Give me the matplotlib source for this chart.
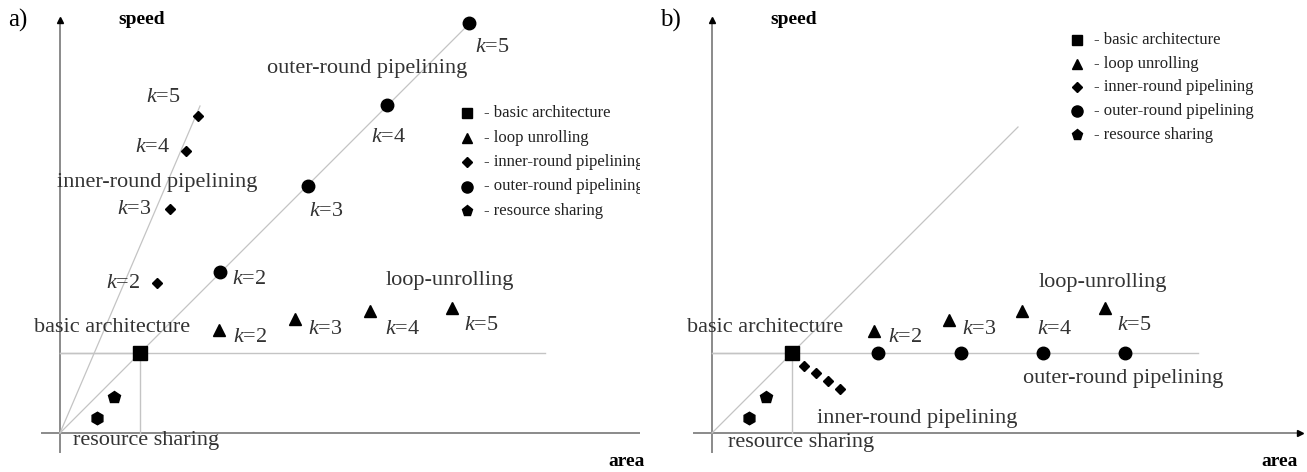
import matplotlib.pyplot as plt

plt.rcParams['font.family'] = 'Liberation Serif'
plt.rcParams['mathtext.fontset'] = 'custom'
plt.rcParams['mathtext.rm'] = 'Liberation Serif'
plt.rcParams['mathtext.it'] = 'Liberation Serif:italic'

# design points, (area, speed) measured from the origin
basic = (80, 80)
k_vals = [2, 3, 4, 5]

a_outer_area = [160, 248, 327, 409]
a_outer_speed = [161, 247, 328, 410]
a_inner_area = [97, 110, 126, 138]
a_inner_speed = [150, 224, 282, 317]
a_loop_area = [159, 235, 310, 392]
a_loop_speed = [103, 114, 122, 125]
share_area = [54, 37]
share_speed = [36, 15]

b_outer_area = [166, 249, 331, 413]
b_outer_speed = [80, 80, 80, 80]
b_inner_area = [92, 104, 116, 128]
b_inner_speed = [67, 60, 52, 44]
b_loop_area = [162, 237, 310, 393]
b_loop_speed = [102, 113, 122, 125]

legend_labels = ['- basic architecture', '- loop unrolling', '- inner-round pipelining',
                 '- outer-round pipelining', '- resource sharing']
legend_markers = ['s', '^', 'D', 'o', 'p']

AXC = '#8a8a8a'
GUIDE = '#c4c4c4'
FS = 16
KFS = 16


def k_label(ax, x, y, k, dx, dy, ha='left'):
    ax.annotate(r'$\mathit{k}$=%d' % k, xy=(x, y), xytext=(dx, dy), textcoords='offset pixels',
                ha=ha, va='center', fontsize=KFS, color='#333333')


def frame(ax, letter, xmax, diag_end, steep=None):
    ax.axis('off')
    ax.plot([0, 0], [-19, 411], color=AXC, lw=1.4, zorder=1)
    ax.plot([0], [413], marker='^', color='black', ms=4, zorder=2)
    ax.plot([-18, xmax], [0, 0], color=AXC, lw=1.4, zorder=1)
    ax.plot([xmax + 2], [0], marker='>', color='black', ms=4, zorder=2)
    ax.plot([0, basic[0]], [basic[1], basic[1]], color=GUIDE, lw=1, zorder=1)
    ax.plot([basic[0], basic[0]], [0, basic[1]], color=GUIDE, lw=1, zorder=1)
    ax.plot([0, diag_end], [0, diag_end], color=GUIDE, lw=0.9, zorder=1)
    if steep is not None:
        ax.plot([0, steep[0]], [0, steep[1]], color=GUIDE, lw=0.9, zorder=1)
    ax.text(-52, 413, letter, fontsize=18, ha='left', va='center')
    ax.text(58, 413, 'speed', fontsize=14, fontweight='bold', ha='left', va='center')
    ax.text(xmax - 18, -29, 'area', fontsize=14, fontweight='bold', ha='center', va='center')
    ax.plot(*basic, marker='s', color='black', ms=10, ls='none', zorder=3)
    ax.plot(share_area[0], share_speed[0], marker='p', color='black', ms=9, ls='none', zorder=3)
    ax.plot(share_area[1], share_speed[1], marker='h', color='black', ms=9, ls='none', zorder=3)


def legend(ax, x, y0, step):
    for i, (m, lab) in enumerate(zip(legend_markers, legend_labels)):
        y = y0 - i * step
        ms = {'s': 7, '^': 7, 'D': 5, 'o': 8, 'p': 8}[m]
        ax.plot(x, y, marker=m, color='black', ms=ms, ls='none', clip_on=False)
        ax.text(x + 17, y, lab, fontsize=12, ha='left', va='center', color='#222222', clip_on=True)


fig = plt.figure(figsize=(13.07, 4.72), dpi=100)

# panel a
ax = fig.add_axes([0, 0, 640 / 1307, 1])
ax.set_xlim(-60, 580)
ax.set_ylim(-39, 433)
frame(ax, 'a)', 585, 409, steep=(140, 327))
ax.plot([0, 485], [basic[1], basic[1]], color=GUIDE, lw=1, zorder=1)
ax.plot(a_outer_area, a_outer_speed, 'o', color='black', ms=9, zorder=3)
ax.plot(a_inner_area, a_inner_speed, 'D', color='black', ms=5, zorder=3)
ax.plot(a_loop_area, a_loop_speed, '^', color='black', ms=8, zorder=3)
outer_off = [(12, -8, 'left'), (1, -25, 'left'), (-16, -32, 'left'), (6, -25, 'left')]
inner_off = [(-17, 0, 'right'), (-18, 0, 'right'), (-16, 3, 'right'), (-17, 18, 'right')]
loop_off = [(14, -7, 'left'), (13, -10, 'left'), (15, -19, 'left'), (12, -18, 'left')]
for i, k in enumerate(k_vals):
    k_label(ax, a_outer_area[i], a_outer_speed[i], k, *outer_off[i])
    k_label(ax, a_inner_area[i], a_inner_speed[i], k, *inner_off[i])
    k_label(ax, a_loop_area[i], a_loop_speed[i], k, *loop_off[i])
ax.text(307, 365, 'outer-round pipelining', fontsize=FS, ha='center', va='center', color='#333333')
ax.text(97, 250, 'inner-round pipelining', fontsize=FS, ha='center', va='center', color='#333333')
ax.text(52, 106, 'basic architecture', fontsize=FS, ha='center', va='center', color='#333333')
ax.text(390, 152, 'loop-unrolling', fontsize=FS, ha='center', va='center', color='#333333')
ax.text(86, -7, 'resource sharing', fontsize=FS, ha='center', va='center', color='#333333')
legend(ax, 407, 320, 24.5)

# panel b
ax = fig.add_axes([653.5 / 1307, 0, 653.5 / 1307, 1])
ax.set_xlim(-58.5, 595)
ax.set_ylim(-39, 433)
frame(ax, 'b)', 586, 306)
ax.plot([0, 486], [basic[1], basic[1]], color=GUIDE, lw=1, zorder=1)
ax.plot(b_outer_area, b_outer_speed, 'o', color='black', ms=9, zorder=3)
ax.plot(b_inner_area, b_inner_speed, 'D', color='black', ms=5, zorder=3)
ax.plot(b_loop_area, b_loop_speed, '^', color='black', ms=8, zorder=3)
for i, k in enumerate(k_vals):
    k_label(ax, b_loop_area[i], b_loop_speed[i], k, *loop_off[i])
ax.text(53, 106, 'basic architecture', fontsize=FS, ha='center', va='center', color='#333333')
ax.text(391, 150, 'loop-unrolling', fontsize=FS, ha='center', va='center', color='#333333')
ax.text(411, 55, 'outer-round pipelining', fontsize=FS, ha='center', va='center', color='#333333')
ax.text(205, 14, 'inner-round pipelining', fontsize=FS, ha='center', va='center', color='#333333')
ax.text(89, -10, 'resource sharing', fontsize=FS, ha='center', va='center', color='#333333')
legend(ax, 365, 393, 23.7)

fig.savefig('out.png', dpi=100)
